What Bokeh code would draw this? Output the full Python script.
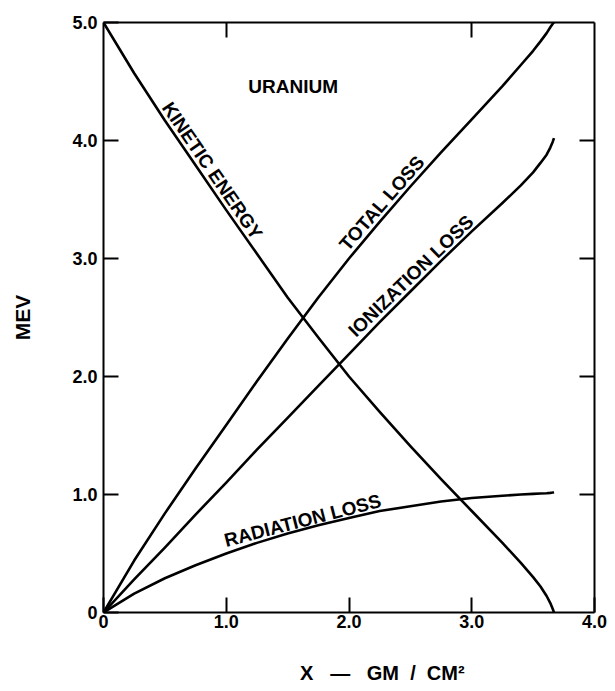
import math
from bokeh.plotting import figure
from bokeh.models import LinearAxis, FixedTicker, Range1d, CustomJSTickFormatter
from bokeh.core.properties import value
from bokeh.embed import file_html
from bokeh.resources import INLINE

# ---- data ----
x_gm_cm2 = [0, 0.25, 0.5, 0.75, 1.0, 1.25, 1.5, 1.75, 2.0, 2.25, 2.5, 2.75,
            3.0, 3.25, 3.4, 3.5, 3.56, 3.61, 3.64, 3.66, 3.67]
radiation_loss = [0, 0.16, 0.29, 0.40, 0.50, 0.59, 0.67, 0.74, 0.80, 0.86, 0.90, 0.94,
                  0.97, 0.99, 1.000, 1.005, 1.008, 1.011, 1.014, 1.017, 1.02]
ionization_loss = [0, 0.28, 0.55, 0.83, 1.10, 1.38, 1.65, 1.92, 2.19, 2.46, 2.72, 2.98,
                   3.23, 3.47, 3.62, 3.73, 3.81, 3.88, 3.94, 3.99, 4.02]
total_loss = [0, 0.44, 0.84, 1.22, 1.59, 1.96, 2.32, 2.67, 3.00, 3.31, 3.61, 3.90,
              4.18, 4.46, 4.64, 4.76, 4.84, 4.91, 4.96, 4.99, 5.00]
kinetic_energy = [5.00, 4.57, 4.17, 3.79, 3.41, 3.04, 2.67, 2.33, 2.00, 1.70, 1.41, 1.13,
                  0.86, 0.59, 0.42, 0.30, 0.22, 0.14, 0.08, 0.03, 0.0]

x_ticks = [0, 1, 2, 3, 4]
y_ticks = [0, 1, 2, 3, 4, 5]
top_ticks = [1, 3]
right_ticks = [1, 2, 3, 4]

curve_labels = ["KINETIC ENERGY", "TOTAL LOSS", "IONIZATION LOSS", "RADIATION LOSS"]
label_x = [0.887, 2.268, 2.504, 1.622]
label_y = [3.745, 3.470, 2.852, 0.780]
label_angle_deg = [-55.5, 49.0, 44.0, 14.5]

x_title = "X\u00a0\u00a0\u00a0\u2014\u00a0\u00a0\u00a0GM\u00a0\u00a0/\u00a0\u00a0CM\u00b2"
y_title = "MEV"

FONT = "Liberation Sans"

p = figure(width=607, height=690, x_range=Range1d(0, 4), y_range=Range1d(0, 5),
           output_backend="svg", toolbar_location=None,
           min_border_left=103, min_border_right=13, min_border_top=22, min_border_bottom=78)
p.grid.visible = False
p.outline_line_color = None
p.background_fill_color = "white"
p.border_fill_color = "white"

lab_fmt = CustomJSTickFormatter(code="return tick == 0 ? '0' : tick.toFixed(1);")
blank_fmt = CustomJSTickFormatter(code="return '';")

def style_axis(ax):
    ax.axis_line_width = 2
    ax.axis_line_color = "black"
    ax.major_tick_line_width = 2
    ax.major_tick_line_color = "black"
    ax.major_tick_in = 15
    ax.major_tick_out = 0
    ax.minor_tick_line_color = None
    ax.major_label_text_font = FONT
    ax.major_label_text_font_style = "bold"
    ax.major_label_text_font_size = "18px"
    ax.major_label_text_color = "black"
    ax.axis_label_text_font = FONT
    ax.axis_label_text_font_style = "bold"
    ax.axis_label_text_font_size = "18px"
    ax.axis_label_text_color = "black"

xb = p.xaxis[0]
xb.ticker = FixedTicker(ticks=x_ticks)
xb.formatter = lab_fmt
style_axis(xb)
xb.major_label_standoff = 2
# leading no-break spaces shift the centred title right, as in the reference
xb.axis_label = "\u00a0" * 12 + x_title
xb.axis_label_text_font_size = "20px"
xb.axis_label_standoff = 31

yl = p.yaxis[0]
yl.ticker = FixedTicker(ticks=y_ticks)
yl.formatter = lab_fmt
style_axis(yl)
yl.major_label_standoff = 6
yl.axis_label = y_title
yl.axis_label_text_font_size = "21px"
yl.axis_label_standoff = 35

xt = LinearAxis(ticker=FixedTicker(ticks=top_ticks), formatter=blank_fmt)
style_axis(xt)
xt.major_label_text_font_size = "0px"
xt.major_label_standoff = 0
p.add_layout(xt, "above")

yr = LinearAxis(ticker=FixedTicker(ticks=right_ticks), formatter=blank_fmt)
style_axis(yr)
yr.major_label_text_font_size = "0px"
yr.major_label_standoff = 0
p.add_layout(yr, "right")

for series in (kinetic_energy, total_loss, ionization_loss, radiation_loss):
    p.line(x_gm_cm2, series, line_width=2.6, line_color="black", line_join="round")

p.text(x=label_x, y=label_y, text=curve_labels,
       angle=[math.radians(a) for a in label_angle_deg],
       text_font=value(FONT), text_font_style="bold", text_font_size="19px",
       text_align="center", text_baseline="middle", text_color="black")

p.text(x=[1.545], y=[4.458], text=["URANIUM"],
       text_font=value(FONT), text_font_style="bold", text_font_size="19px",
       text_align="center", text_baseline="middle", text_color="black")

open("out.html", "w").write(file_html(p, INLINE))
